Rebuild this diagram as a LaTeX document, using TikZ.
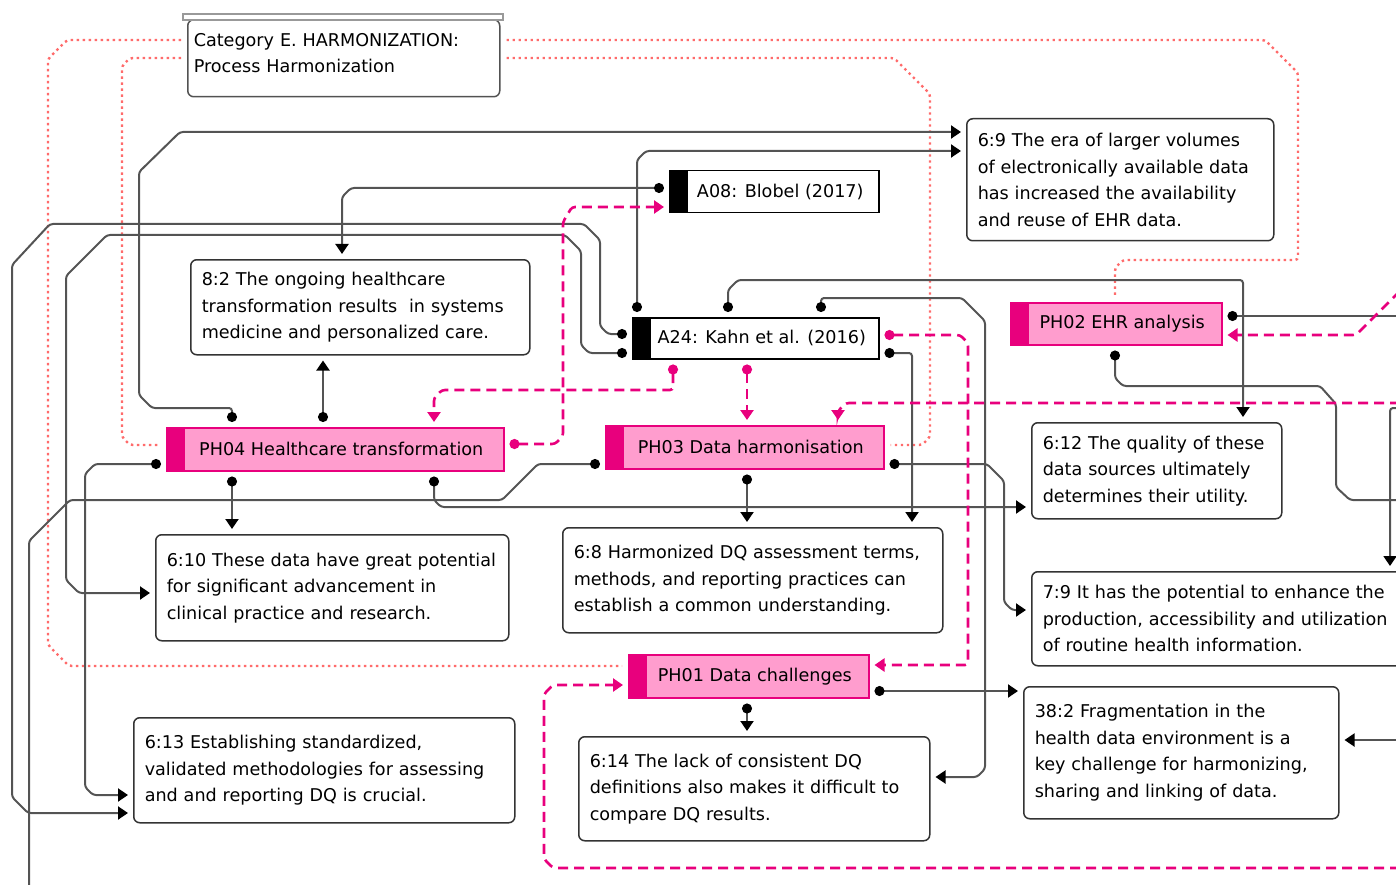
\documentclass[tikz,border=0pt]{standalone}
\usepackage{fontspec}
\setmainfont{DejaVu Sans}
\usetikzlibrary{arrows.meta}
\definecolor{lnk}{HTML}{545454}
\definecolor{mag}{HTML}{E8007D}
\definecolor{pinkf}{HTML}{FF9DCE}
\definecolor{reddot}{HTML}{FF6B6B}
\definecolor{frame}{HTML}{333333}
\tikzset{
  every node/.style={font=\fontsize{17.6}{26.5}\selectfont},
  txtbox/.style={draw=frame, line width=1.5pt, rounded corners=6pt, fill=white,
    align=left, inner xsep=11pt, inner ysep=0pt, anchor=north west},
  tagbox/.style 2 args={draw=#1, line width=1.5pt, fill=#2, inner sep=0pt,
    anchor=north west, execute at begin node={\hspace*{12pt}}},
  bar/.style={path picture={\fill[#1] (path picture bounding box.north west)
    rectangle ([xshift=18pt]path picture bounding box.south west);}},
  conn/.style={draw=lnk, line width=2pt, rounded corners=3pt, shorten <=5pt, shorten >=5pt,
    {Circle[length=10pt,color=black]}-{Triangle[length=10pt,width=13pt,color=black]}},
  cfree/.style={draw=lnk, line width=2pt, rounded corners=3pt, shorten >=5pt,
    -{Triangle[length=10pt,width=13pt,color=black]}},
  cout/.style={draw=lnk, line width=2pt, rounded corners=3pt, shorten <=5pt,
    {Circle[length=10pt,color=black]}-},
  pconn/.style={draw=mag, line width=2.6pt, dash pattern=on 10pt off 6pt, rounded corners=3pt,
    shorten <=5pt, shorten >=5pt, {Circle[length=10pt]}-{Triangle[length=10pt,width=13pt]}},
  pfree/.style={draw=mag, line width=2.6pt, dash pattern=on 10pt off 6pt, rounded corners=3pt,
    shorten >=5pt, -{Triangle[length=10pt,width=13pt]}},
  rlink/.style={draw=reddot, line width=2.4pt, dash pattern=on 2.4pt off 3.6pt,
    rounded corners=3pt, shorten <=6pt, shorten >=6pt},
}
\begin{document}
\begin{tikzpicture}[x=1pt,y=-1pt]
\clip (0,0) rectangle (1396,885);

% category frame
\node[txtbox, draw=frame!85, inner xsep=6pt, text width=300pt, minimum height=77pt]
  (cat) at (187,19) {Category E. HARMONIZATION:\\Process Harmonization\\[-16pt]\mbox{}};
\draw[draw=gray!80, line width=1.2pt, fill=white] (183,14) rectangle (503,20);

% statement boxes
\node[txtbox, text width=285pt, minimum height=122pt] (n69) at (966,118)
  {6:9 The era of larger volumes\\of electronically available data\\has increased the availability\\and reuse of EHR data.};
\node[txtbox, text width=317pt, minimum height=95pt] (n82) at (190,259)
  {8:2 The ongoing healthcare\\transformation results\ \ in systems\\medicine and personalized care.};
\node[txtbox, text width=228pt, minimum height=96pt] (n612) at (1031,422)
  {6:12 The quality of these\\data sources ultimately\\determines their utility.};
\node[txtbox, text width=331pt, minimum height=106pt] (n610) at (155,534)
  {6:10 These data have great potential\\for significant advancement in\\clinical practice and research.};
\node[txtbox, text width=358pt, minimum height=105pt] (n68) at (562,527)
  {6:8 Harmonized DQ assessment terms,\\methods, and reporting practices can\\establish a common understanding.};
\node[txtbox, text width=408pt, minimum height=94pt] (n79) at (1031,571)
  {7:9 It has the potential to enhance the\\production, accessibility and utilization\\of routine health information.};
\node[txtbox, text width=293pt, minimum height=132pt] (n382) at (1023,686)
  {38:2 Fragmentation in the\\health data environment is a\\key challenge for harmonizing,\\sharing and linking of data.};
\node[txtbox, text width=359pt, minimum height=105pt] (n613) at (133,717)
  {6:13 Establishing standardized,\\validated methodologies for assessing\\and and reporting DQ is crucial.};
\node[txtbox, text width=329pt, minimum height=104pt] (n614) at (578,736)
  {6:14 The lack of consistent DQ\\definitions also makes it difficult to\\compare DQ results.};

% source and theme tags
\node[tagbox={black}{white}, bar=black, minimum width=209pt, minimum height=42pt] (a08) at (669,170) {A08: Blobel (2017)};
\node[tagbox={black}{white}, bar=black, minimum width=246pt, minimum height=41pt] (a24) at (632,317) {A24: Kahn et al. (2016)};
\node[tagbox={mag}{pinkf}, bar=mag, minimum width=211pt, minimum height=42pt] (ph02) at (1010,302) {PH02 EHR analysis};
\node[tagbox={mag}{pinkf}, bar=mag, minimum width=337pt, minimum height=43pt] (ph04) at (166,427) {PH04 Healthcare transformation};
\node[tagbox={mag}{pinkf}, bar=mag, minimum width=278pt, minimum height=43pt] (ph03) at (605,425) {PH03 Data harmonisation};
\node[tagbox={mag}{pinkf}, bar=mag, minimum width=240pt, minimum height=43pt] (ph01) at (628,654) {PH01 Data challenges};

% category links
\draw[rlink] (cat.west |- 0,40) -- (67,40) -- (48,59) -- (48,645) -- (69,666) -- (ph01.west |- 0,666);
\draw[rlink] (cat.west |- 0,58) -- (130,58) -- (122,66) -- (122,437) -- (130,445) -- (ph04.west |- 0,445);
\draw[rlink] (cat.east |- 0,40) -- (1265,40) -- (1298,73) -- (1298,260) -- (1123,260) -- (1115,268) -- (ph02.north -| 1115,0);
\draw[rlink] (cat.east |- 0,58) -- (894,58) -- (930,94) -- (930,437) -- (922,445) -- (ph03.east |- 0,445);

% solid connectors
\draw[conn] (ph04.north -| 232,0) -- (232,408) -- (152,408) -- (139,395) -- (139,172) -- (180,132) -- (n69.west |- 0,132);
\draw[conn] (a24.north -| 637,0) -- (637,160) -- (646,151) -- (n69.west |- 0,151);
\draw[conn] (a08.west |- 0,188) -- (351,188) -- (342,197) -- (n82.north -| 342,0);
\draw[conn] (ph04.north -| 323,0) -- (n82.south -| 323,0);
\draw[conn] (a24.west |- 0,334) -- (608,334) -- (600,326) -- (600,240) -- (584,224) -- (50,224) -- (12,265) -- (12,797) -- (28,813) -- (n613.west |- 0,813);
\draw[conn] (a24.west |- 0,353) -- (589,353) -- (581,345) -- (581,251) -- (565,235) -- (107,235) -- (66,276) -- (66,580) -- (79,593) -- (n610.west |- 0,593);
\draw[conn] (ph04.west |- 0,464) -- (95,464) -- (85,474) -- (85,787) -- (93,795) -- (n613.west |- 0,795);
\draw[cout] (ph03.west |- 0,464) -- (538,464) -- (502,500) -- (70,500) -- (29,541) -- (29,900);
\draw[conn] (ph04.south -| 434,0) -- (434,500) -- (441,507) -- (n612.west |- 0,507);
\draw[conn] (a24.north -| 728,0) -- (728,290) -- (738,280) -- (1243,280) -- (n612.north -| 1243,0);
\draw[conn] (a24.north -| 821,0) -- (821,298) -- (962,298) -- (985,321) -- (985,769) -- (977,777) -- (n614.east |- 0,777);
\draw[conn] (a24.east |- 0,353) -- (912,353) -- (n68.north -| 912,0);
\draw[cout] (ph02.east |- 0,316) -- (1400,316);
\draw[cout] (ph02.south -| 1115,0) -- (1115,378) -- (1123,386) -- (1320,386) -- (1336,404) -- (1336,487) -- (1350,500) -- (1400,500);
\draw[cfree] (1400,408) -- (1390,408) -- (n79.north -| 1390,0);
\draw[conn] (ph03.east |- 0,464) -- (987,464) -- (1004,481) -- (1004,602) -- (1012,610) -- (n79.west |- 0,610);
\draw[conn] (ph03.south -| 747,0) -- (n68.north -| 747,0);
\draw[conn] (ph04.south -| 232,0) -- (n610.north -| 232,0);
\draw[conn] (ph01.south -| 747,0) -- (n614.north -| 747,0);
\draw[conn] (ph01.east |- 0,691) -- (n382.west |- 0,691);
\draw[cfree] (1400,740) -- (n382.east |- 0,740);

% theme links
\draw[pconn] (a24.south -| 673,0) -- (673,390) -- (442,390) -- (434,398) -- (ph04.north -| 434,0);
\draw[pconn] (a24.south -| 747,0) -- (ph03.north -| 747,0);
\draw[pconn] (ph04.east |- 0,444) -- (555,444) -- (563,436) -- (563,222) -- (572,207) -- (a08.west |- 0,207);
\draw[pconn] (a24.east |- 0,335) -- (960,335) -- (968,343) -- (968,665) -- (ph01.east |- 0,665);
\draw[pfree] (1400,403) -- (846,403) -- (838,411) -- (ph03.north -| 838,0);
\draw[pfree] (1400,291) -- (1356,335) -- (ph02.east |- 0,335);
\draw[pfree] (1400,868) -- (553,868) -- (544,859) -- (544,694) -- (553,685) -- (ph01.west |- 0,685);
\end{tikzpicture}
\end{document}
